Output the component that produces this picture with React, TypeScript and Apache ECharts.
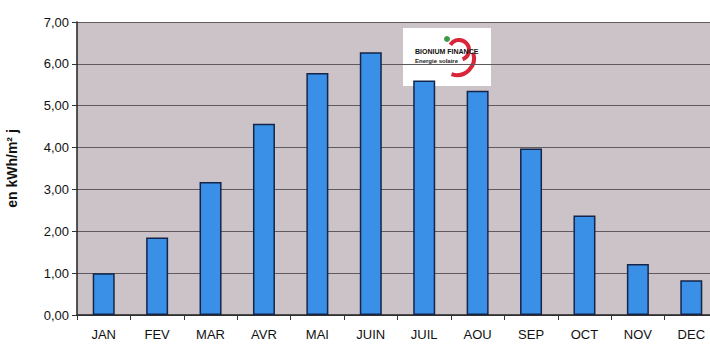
import React, { useEffect, useRef } from "react";
import * as echarts from "echarts";

const months = ["JAN", "FEV", "MAR", "AVR", "MAI", "JUIN", "JUIL", "AOU", "SEP", "OCT", "NOV", "DEC"];
const irradiation = [1.0, 1.85, 3.18, 4.57, 5.78, 6.28, 5.6, 5.36, 3.98, 2.38, 1.22, 0.83];
const yTicks = { min: 0, max: 7, interval: 1 };

export default function App() {
  const ref = useRef<HTMLDivElement>(null);
  useEffect(() => {
    if (!ref.current) return;
    const chart = echarts.init(ref.current, null, { renderer: "svg" });
    chart.setOption({
      animation: false,
      backgroundColor: "#ffffff",
      textStyle: { fontFamily: "Liberation Sans, Arial, sans-serif" },
      grid: {
        left: 77,
        width: 641,
        top: 22,
        height: 293,
        outerBoundsMode: "none",
        containLabel: false,
        show: true,
        backgroundColor: "#cbc3c7",
        borderWidth: 0,
      },
      xAxis: {
        type: "category",
        data: months,
        axisLine: { show: true, lineStyle: { color: "#222", width: 1.5 } },
        axisTick: { show: true, length: 5, lineStyle: { color: "#333" } },
        axisLabel: { color: "#111", fontSize: 13, margin: 13 },
      },
      yAxis: {
        type: "value",
        min: yTicks.min,
        max: yTicks.max,
        interval: yTicks.interval,
        name: "en kWh/m² j",
        nameLocation: "middle",
        nameGap: 58,
        nameRotate: 90,
        nameTextStyle: { color: "#111", fontSize: 14, fontWeight: "bold" },
        axisLine: { show: true, lineStyle: { color: "#222", width: 1.5 } },
        axisTick: { show: true, length: 5, lineStyle: { color: "#333" } },
        axisLabel: {
          color: "#111",
          fontSize: 13,
          margin: 8,
          formatter: (v: number) => v.toFixed(2).replace(".", ","),
        },
        splitLine: { show: true, lineStyle: { color: "#5f5a5d", width: 1.2 } },
      },
      series: [
        {
          type: "bar",
          data: irradiation,
          barWidth: 22,
          itemStyle: { color: "#3990e6", borderColor: "#15254a", borderWidth: 1.5 },
        },
      ],
      graphic: [
        {
          type: "group",
          left: 403,
          top: 28,
          z: 100,
          children: [
            { type: "rect", shape: { x: 0, y: 0, width: 88, height: 58 }, style: { fill: "#ffffff" } },
            {
              type: "arc",
              shape: { cx: 56, cy: 22, r: 10, startAngle: -2.6, endAngle: 1.2 },
              style: { stroke: "#d8253a", lineWidth: 4, fill: "none" },
            },
            {
              type: "arc",
              shape: { cx: 54, cy: 30, r: 17, startAngle: -0.3, endAngle: 1.9 },
              style: { stroke: "#d8253a", lineWidth: 4, fill: "none" },
            },
            {
              type: "circle",
              shape: { cx: 44, cy: 11, r: 3 },
              style: { fill: "#3a9a4a" },
            },
            {
              type: "text",
              x: 12,
              y: 20,
              style: { text: "BIONIUM FINANCE", fill: "#111", font: "bold 7px Liberation Sans" },
            },
            {
              type: "text",
              x: 12,
              y: 30,
              style: { text: "Energie solaire", fill: "#222", font: "bold 6px Liberation Sans" },
            },
          ],
        },
      ],
    });
    return () => chart.dispose();
  }, []);
  return <div ref={ref} style={{ width: 710, height: 351, position: "absolute", left: 0, top: 0 }} />;
}
